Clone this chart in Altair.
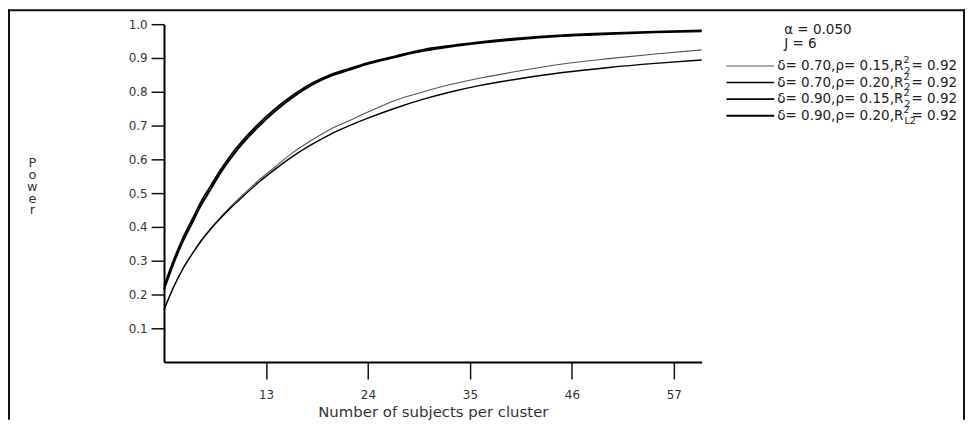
import altair as alt
import pandas as pd

# ---- data ----
n = [2, 3, 4, 5, 6, 7, 8, 9, 10, 12, 14, 16, 18, 20, 22, 24, 27, 30, 33, 36, 40, 45, 50, 55, 60]
p_d70_r15 = [0.155, 0.22, 0.275, 0.32, 0.36, 0.395, 0.426, 0.455, 0.482, 0.533, 0.578, 0.622, 0.658,
             0.69, 0.715, 0.74, 0.775, 0.80, 0.822, 0.84, 0.86, 0.882, 0.898, 0.912, 0.924]
p_d70_r20 = [0.155, 0.22, 0.274, 0.318, 0.358, 0.392, 0.423, 0.451, 0.477, 0.527, 0.571, 0.611, 0.645,
             0.675, 0.70, 0.722, 0.752, 0.778, 0.80, 0.818, 0.837, 0.857, 0.872, 0.884, 0.894]
p_d90_r15 = [0.225, 0.30, 0.365, 0.42, 0.475, 0.52, 0.565, 0.605, 0.64, 0.70, 0.75, 0.792, 0.826,
             0.851, 0.869, 0.886, 0.906, 0.925, 0.937, 0.947, 0.958, 0.968, 0.974, 0.978, 0.982]
p_d90_r20 = [0.215, 0.29, 0.355, 0.41, 0.465, 0.51, 0.556, 0.596, 0.632, 0.692, 0.743, 0.786, 0.821,
             0.847, 0.865, 0.883, 0.903, 0.921, 0.934, 0.944, 0.955, 0.965, 0.971, 0.976, 0.979]

series = ["d70r15", "d70r20", "d90r15", "d90r20"]
legend_main = ["δ= 0.70,ρ= 0.15,R", "δ= 0.70,ρ= 0.20,R", "δ= 0.90,ρ= 0.15,R", "δ= 0.90,ρ= 0.20,R"]
legend_sub = ["2", "2", "2", "L2"]
legend_sup = ["2", "2", "2", "2"]
legend_tail = ["= 0.92", "= 0.92", "= 0.92", "= 0.92"]
header_lines = ["α = 0.050", "J = 6"]
x_ticks = [13, 24, 35, 46, 57]
y_ticks = [0.1, 0.2, 0.3, 0.4, 0.5, 0.6, 0.7, 0.8, 0.9, 1.0]

rows = []
for s, vals in zip(series, [p_d70_r15, p_d70_r20, p_d90_r15, p_d90_r20]):
    for xv, yv in zip(n, vals):
        rows.append({"series": s, "n": xv, "power": yv})
df = pd.DataFrame(rows)

FONT = "DejaVu Sans"
W, H = 541, 340
sw_scale = alt.Scale(domain=series, range=[1.1, 2, 4, 5.5])
col_scale = alt.Scale(domain=series, range=["#555555", "#000000", "#000000", "#000000"])

lines = alt.Chart(df).mark_line(strokeCap="butt", interpolate="monotone").encode(
    x=alt.X("n:Q", scale=alt.Scale(domain=[2, 60], nice=False, zero=False),
            axis=alt.Axis(values=x_ticks, title="Number of subjects per cluster",
                          tickSize=17, labelPadding=11, titleY=58, titleBaseline="bottom",
                          grid=False)),
    y=alt.Y("power:Q", scale=alt.Scale(domain=[0, 1], nice=False),
            axis=alt.Axis(values=y_ticks, format=".1f", title=["P", "o", "w", "e", "r"],
                          titleAngle=0, titleX=-133, titleY=133, titleAlign="center",
                          titleBaseline="top", titleLineHeight=12, titleFontSize=13,
                          tickSize=13, labelPadding=4, grid=False)),
    detail="series:N",
    strokeWidth=alt.StrokeWidth("series:N", scale=sw_scale, legend=None),
    color=alt.Color("series:N", scale=col_scale, legend=None),
)

# ---- custom legend ----
leg = pd.DataFrame({"i": range(4), "series": series, "main": legend_main,
                    "sub": legend_sub, "sup": legend_sup, "tail": legend_tail})
base = alt.Chart(leg).transform_calculate(py="42 + datum.i * 16.7")
leg_lines = base.mark_rule(strokeCap="butt").encode(
    x=alt.value(566), x2=alt.value(614), y=alt.Y("py:Q", scale=None),
    strokeWidth=alt.StrokeWidth("series:N", scale=sw_scale, legend=None),
    color=alt.Color("series:N", scale=col_scale, legend=None),
)
FS = 13.6
X0 = 617
main_w = 9.342 * FS
SFS = FS * 0.7
leg_main = base.mark_text(align="left", baseline="middle", font=FONT, fontSize=FS, color="#222").encode(
    x=alt.value(X0), y=alt.Y("py:Q", scale=None), text="main:N")
leg_sup = base.mark_text(align="left", baseline="middle", font=FONT, fontSize=SFS, color="#222", dy=-6).encode(
    x=alt.value(X0 + main_w), y=alt.Y("py:Q", scale=None), text="sup:N")
leg_sub = base.mark_text(align="left", baseline="middle", font=FONT, fontSize=SFS, color="#222", dy=5).encode(
    x=alt.value(X0 + main_w + 1), y=alt.Y("py:Q", scale=None), text="sub:N")
leg_tail = base.mark_text(align="left", baseline="middle", font=FONT, fontSize=FS, color="#222").encode(
    x=alt.value(X0 + main_w + 8), y=alt.Y("py:Q", scale=None), text="tail:N")

hdr = pd.DataFrame({"k": range(2), "t": header_lines})
header = alt.Chart(hdr).transform_calculate(py="6 + datum.k * 14").mark_text(
    align="left", baseline="middle", font=FONT, fontSize=FS, color="#222").encode(
    x=alt.value(624), y=alt.Y("py:Q", scale=None), text="t:N")

# ---- outer frame ----
frame_df = pd.DataFrame({"k": [0]})
fb = alt.Chart(frame_df)
frame_top = fb.mark_rule(color="#111", strokeWidth=2).encode(
    x=alt.value(-157), x2=alt.value(806), y=alt.value(-14))
frame_left = fb.mark_rule(color="#111", strokeWidth=2).encode(
    x=alt.value(-156), y=alt.value(-15), y2=alt.value(398))
frame_right = fb.mark_rule(color="#111", strokeWidth=2).encode(
    x=alt.value(805), y=alt.value(-15), y2=alt.value(398))

chart = alt.layer(lines, leg_lines, leg_main, leg_sup, leg_sub, leg_tail, header,
                  frame_top, frame_left, frame_right).properties(
    width=W, height=H,
    autosize=alt.AutoSizeParams(type="none"),
    padding={"left": 157, "top": 15, "right": 266, "bottom": 58},
).configure_view(stroke=None).configure_axis(
    domainColor="#000", domainWidth=2, tickColor="#111", tickWidth=1.5,
    labelFont=FONT, labelFontSize=12, labelColor="#333",
    titleFont=FONT, titleFontSize=15, titleFontWeight="normal", titleColor="#333",
)

chart.save("out.html", embed_options={"renderer": "svg", "actions": False})
